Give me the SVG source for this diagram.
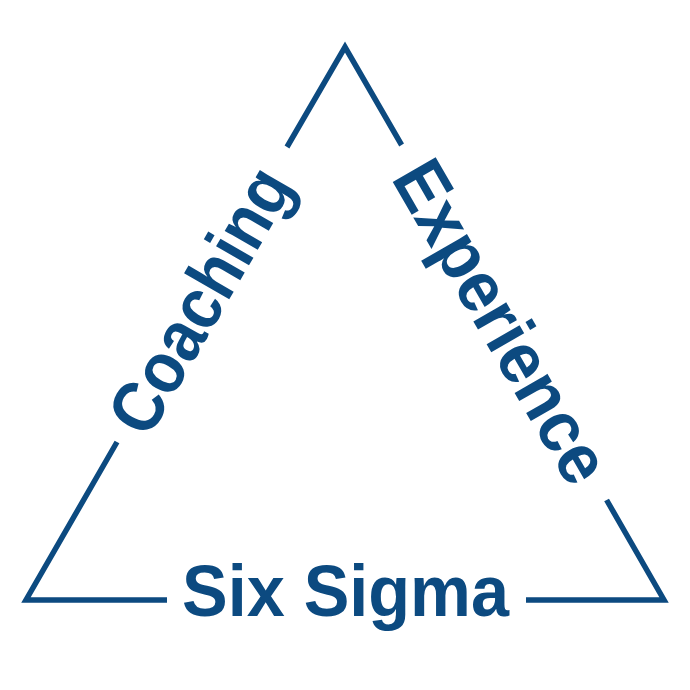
<svg xmlns="http://www.w3.org/2000/svg" width="690" height="690" viewBox="0 0 690 690">
  <style>
    .edge { fill: none; stroke: #0c4a80; stroke-width: 5.5; stroke-linejoin: miter; stroke-miterlimit: 10; stroke-linecap: butt; }
    .lbl { font-family: "Liberation Sans", Arial, sans-serif; font-weight: bold; font-size: 72px; fill: #0c4a80; text-anchor: middle; }
  </style>
  <rect width="690" height="690" fill="#ffffff"/>
  <g id="connectors">
    <polyline class="edge" points="287,147 345,47 401.6,145"/>
    <polyline class="edge" points="117,442 26,600 167,600"/>
    <polyline class="edge" points="526,600 664,600 606.6,500"/>
  </g>
  <g id="coaching" transform="translate(199,299.7) rotate(-60)">
    <text class="lbl" x="0" y="26" textLength="294" lengthAdjust="spacingAndGlyphs">Coaching</text>
  </g>
  <g id="experience" transform="translate(503,320.8) rotate(60)">
    <text class="lbl" x="0" y="26" textLength="360" lengthAdjust="spacingAndGlyphs">Experience</text>
  </g>
  <g id="six-sigma">
    <text class="lbl" x="345.5" y="616" textLength="327" lengthAdjust="spacingAndGlyphs">Six Sigma</text>
  </g>
</svg>
